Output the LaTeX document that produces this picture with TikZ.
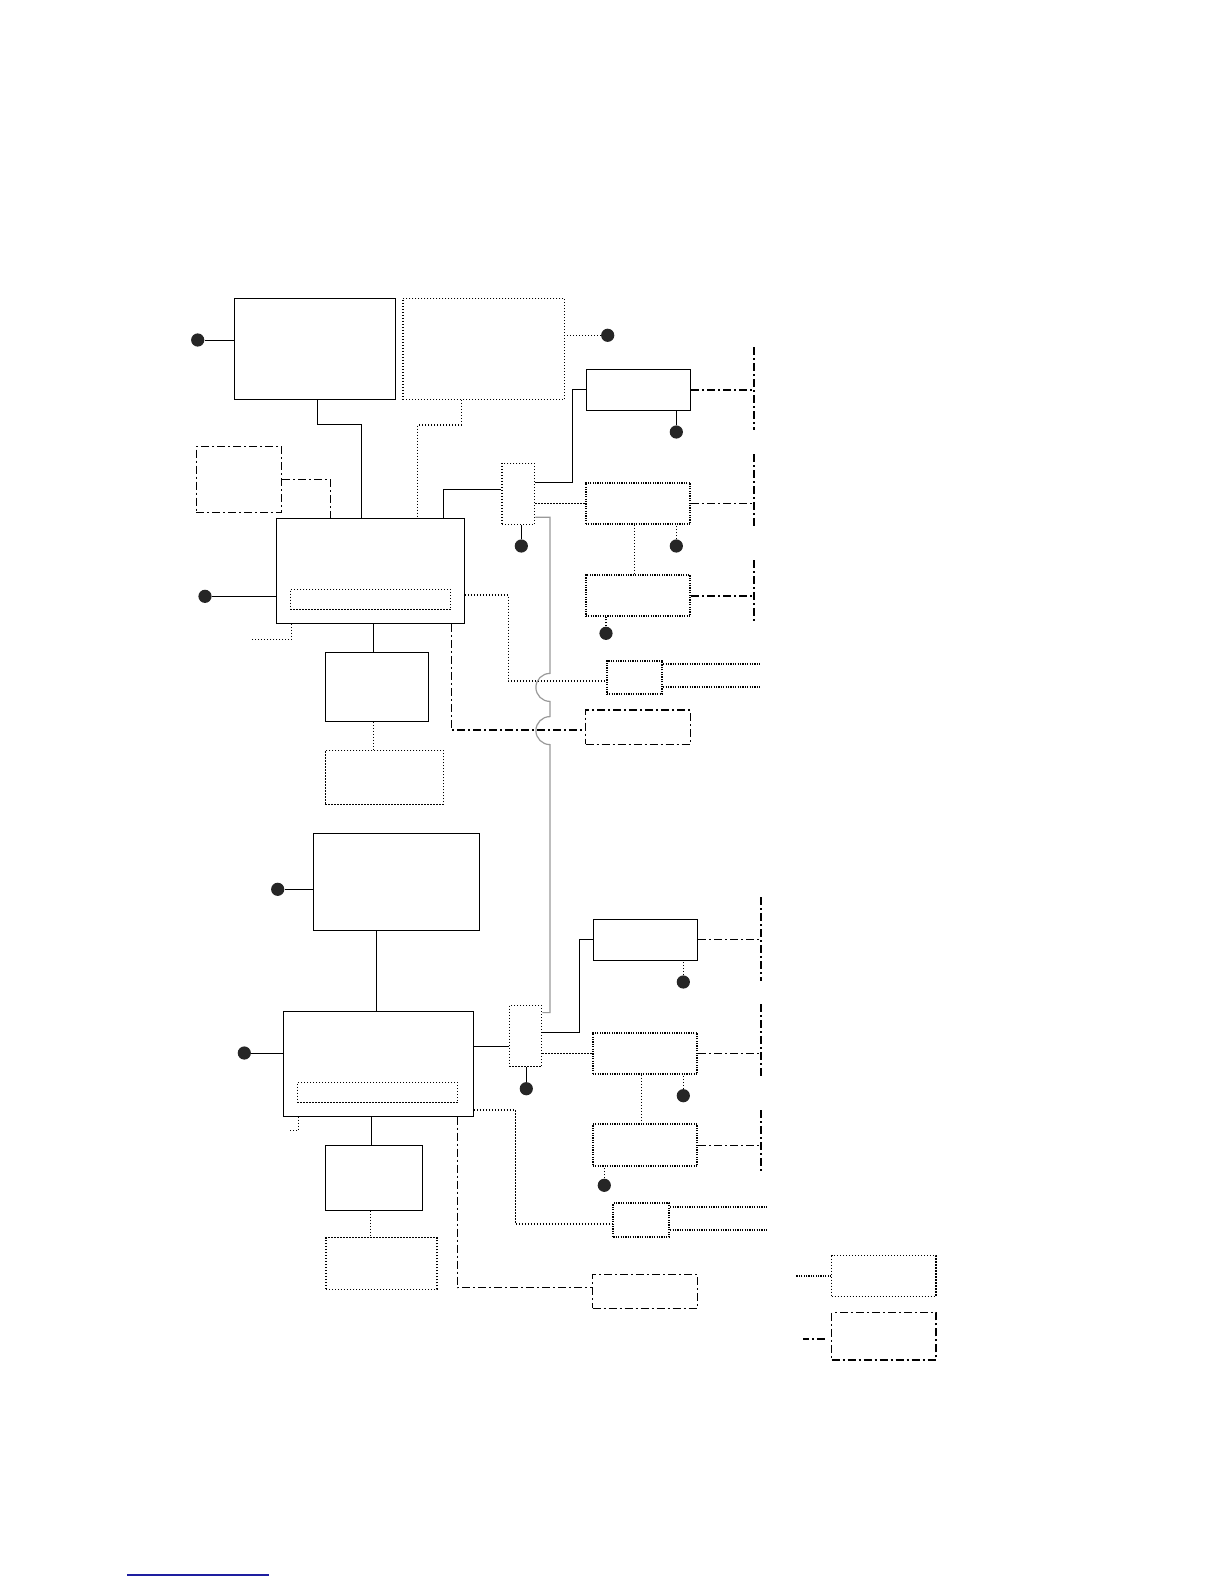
\documentclass[tikz,border=0pt]{standalone}
\usepackage{tikz}
\usetikzlibrary{fit}
\definecolor{lnk}{RGB}{30,30,160}

\begin{document}
\begin{tikzpicture}[x=0.5pt,y=-0.5pt,
  wire/.style={line width=0.5pt},
  dotw/.style={line width=0.6pt,dash pattern=on 0.6pt off 0.9pt},
  dotk/.style={line width=0.9pt,dash pattern=on 0.6pt off 0.6pt},
  dashdotw/.style={line width=0.6pt,dash pattern=on 4pt off 1.5pt on 1pt off 1.5pt},
  dashdotk/.style={line width=1pt,dash pattern=on 4pt off 1.5pt on 1pt off 1.5pt},
  busw/.style={line width=0.6pt,black!40},
  solidbox/.style={draw,wire,inner sep=0pt},
  dotbox/.style={draw,dotw,inner sep=0pt},
  heavybox/.style={draw,dotk,inner sep=0pt},
  ddbox/.style={draw,dashdotw,inner sep=0pt},
  jack/.style={circle,fill=black!85,minimum size=6.6pt,inner sep=0pt}]
  \useasboundingbox (0,0) rectangle (1224,1584);
  % upper unit
  \node[solidbox,fit={(234.3,298.3) (395.3,399.3)}] (panel) {};
  \node[dotbox,fit={(403,298.3) (564.7,399.3)}] (aux) {};
  \node[ddbox,fit={(196.3,446.3) (281.7,512.3)}] (opt) {};
  \node[solidbox,fit={(276.3,518.3) (464.3,623.3)}] (mcu) {};
  \node[dotbox,fit={(290.3,589.3) (450.7,609.3)}] (slot) {};
  \node[dotbox,fit={(502,463.3) (534.7,524.3)}] (hub) {};
  \node[solidbox,fit={(586.3,369.3) (690.7,410.3)}] (drvA) {};
  \node[heavybox,fit={(585.7,482.7) (690.3,524)}] (drvB) {};
  \node[heavybox,fit={(585.7,575.3) (690.3,616)}] (drvC) {};
  \node[heavybox,fit={(606.7,660.7) (662.3,694)}] (conn) {};
  \node[ddbox,fit={(585.7,710) (690.3,744.3)}] (ext) {};
  \node[solidbox,fit={(325.3,652.3) (428.3,721.3)}] (psu) {};
  \node[dotbox,fit={(325.3,750.3) (443.3,804.3)}] (bat) {};
  \node[jack] (jpanel) at (197.7,340) {};
  \node[jack] (jaux) at (607.7,335.3) {};
  \node[jack] (jmcu) at (205,596.3) {};
  \node[jack] (jhub) at (521.3,546) {};
  \node[jack] (jdrvA) at (676.3,432) {};
  \node[jack] (jdrvB) at (676.3,546) {};
  \node[jack] (jdrvC) at (606,633.3) {};
  \coordinate (railA) at (754,347.3);
  \coordinate (railB) at (754,454);
  \coordinate (railC) at (754,560);
  \draw[dashdotk] (railA) -- ++(0,82.7);
  \draw[dashdotk] (railB) -- ++(0,73.3);
  \draw[dashdotk] (railC) -- ++(0,63.3);
  \draw[wire] (jpanel) -- (jpanel -| panel.west);
  \draw[dotw] (jaux) -- (jaux -| aux.east);
  \draw[wire] (panel.south west) ++(84,0) |- ++(43.4,25) coordinate (k1) -- (k1 |- mcu.north);
  \draw[dotw] (aux.south west) ++(58.7,0) |- ++(-43.4,25) coordinate (k2) -- (k2 |- mcu.north);
  \draw[dashdotw] (opt.east) -- ++(48,0) coordinate (k3) -- (k3 |- mcu.north);
  \draw[wire] (mcu.north west) ++(168,0) |- ([yshift=2.2pt]hub.west);
  \draw[wire] ([yshift=5.9pt]hub.east) -- ++(37.6,0) |- (drvA.west);
  \draw[dotw] (hub.east |- drvB.west) -- (drvB.west);
  \draw[wire] (jhub) -- (jhub |- hub.south);
  \draw[wire] (jdrvA) -- (jdrvA |- drvA.south);
  \draw[dotw] (jdrvB) -- (jdrvB |- drvB.south);
  \draw[dotw] (jdrvC) -- (jdrvC |- drvC.south);
  \draw[dotw] ([xshift=-1.8pt]drvB.south) -- ([xshift=-1.8pt]drvC.north);
  \draw[dashdotk] (drvA.east) -- (drvA.east -| railA);
  \draw[dashdotw] (drvB.east) -- (drvB.east -| railB);
  \draw[dashdotk] (drvC.east) -- (drvC.east -| railC);
  \draw[wire] (jmcu) -- (jmcu -| mcu.west);
  \draw[dotw] (mcu.south west) ++(15.4,0) |- ++(-39,16);
  \draw[wire] ([xshift=1.5pt]mcu.south) coordinate (k4) -- (k4 |- psu.north);
  \draw[dotw] ([xshift=-1.75pt]psu.south) coordinate (k5) -- (k5 |- bat.north);
  \draw[dotw] ([yshift=-12.1pt]mcu.east) -- ++(43.4,0) |- ([yshift=-1.8pt]conn.west);
  \draw[dashdotw] (mcu.south east) ++(-13.3,0) |- ([yshift=-1.4pt]ext.west);
  \draw[dotk] ([yshift=6.5pt]conn.east) -- ++(97.7,0);
  \draw[dotk] ([yshift=-4.7pt]conn.east) -- ++(97.7,0);
  % lower unit
  \node[solidbox,fit={(313.3,833.3) (479.3,930.3)}] (panel2) {};
  \node[solidbox,fit={(283.3,1011.3) (473.3,1116)}] (mcu2) {};
  \node[dotbox,fit={(297.3,1082.3) (457.7,1102.3)}] (slot2) {};
  \node[dotbox,fit={(509.3,1005.3) (541.7,1066.3)}] (hub2) {};
  \node[solidbox,fit={(593.3,919.3) (697.7,960.3)}] (drvA2) {};
  \node[heavybox,fit={(592.7,1032.7) (697.3,1074)}] (drvB2) {};
  \node[heavybox,fit={(592.7,1124.3) (697.3,1166)}] (drvC2) {};
  \node[heavybox,fit={(613.3,1203.3) (669.3,1236.7)}] (conn2) {};
  \node[ddbox,fit={(592.7,1274.3) (697.3,1308.3)}] (ext2) {};
  \node[solidbox,fit={(325.3,1145.3) (422.3,1210.3)}] (psu2) {};
  \node[dotbox,fit={(326,1237.7) (437,1289.3)}] (bat2) {};
  \node[jack] (jpanel2) at (277.7,889.3) {};
  \node[jack] (jmcu2) at (244.3,1053) {};
  \node[jack] (jhub2) at (526.3,1088.7) {};
  \node[jack] (jdrvA2) at (683.3,982) {};
  \node[jack] (jdrvB2) at (683.3,1095.7) {};
  \node[jack] (jdrvC2) at (604.3,1185.3) {};
  \coordinate (railA2) at (761,897.3);
  \coordinate (railB2) at (761,1004);
  \coordinate (railC2) at (761,1110);
  \draw[dashdotk] (railA2) -- ++(0,83.4);
  \draw[dashdotk] (railB2) -- ++(0,72.7);
  \draw[dashdotk] (railC2) -- ++(0,64);
  \draw[wire] (jpanel2) -- (jpanel2 -| panel2.west);
  \draw[wire] ([xshift=-1pt]mcu2.north) coordinate (k6) -- (k6 |- panel2.south);
  \draw[wire] (jmcu2) -- (jmcu2 -| mcu2.west);
  \draw[wire] ([yshift=-5.2pt]hub2.west) coordinate (k7) -- (k7 -| mcu2.east);
  \draw[wire] (jhub2) -- (jhub2 |- hub2.south);
  \draw[wire] ([yshift=1.7pt]hub2.east) -- ++(37.6,0) |- (drvA2.west);
  \draw[dotw] (hub2.east |- drvB2.west) -- (drvB2.west);
  \draw[dotw] (jdrvA2) -- (jdrvA2 |- drvA2.south);
  \draw[dotw] (jdrvB2) -- (jdrvB2 |- drvB2.south);
  \draw[dotw] (jdrvC2) -- (jdrvC2 |- drvC2.south);
  \draw[dotw] ([xshift=-1.65pt]drvB2.south) -- ([xshift=-1.65pt]drvC2.north);
  \draw[dashdotw] (drvA2.east) -- (drvA2.east -| railA2);
  \draw[dashdotw] (drvB2.east) -- (drvB2.east -| railB2);
  \draw[dashdotw] (drvC2.east) -- (drvC2.east -| railC2);
  \draw[dotw] (mcu2.south west) ++(15.4,0) |- ++(-9.4,14);
  \draw[wire] ([xshift=-1.25pt]psu2.north) coordinate (k8) -- (k8 |- mcu2.south);
  \draw[dotw] ([xshift=-1.55pt]psu2.south) coordinate (k9) -- (k9 |- bat2.north);
  \draw[dashdotw] (mcu2.south east) ++(-16.6,0) |- ([yshift=1.8pt]ext2.west);
  \draw[dotw] ([yshift=-23.2pt]mcu2.east) -- ++(41.7,0) |- ([yshift=-2pt]conn2.west);
  \draw[dotk] ([yshift=6.35pt]conn2.east) -- ++(97.4,0);
  \draw[dotk] ([yshift=-5pt]conn2.east) -- ++(97.4,0);
  % shared bus with hop-overs
  \draw[busw] ([yshift=-11.7pt]hub.east) -- ++(14.6,0) -- ++(0,156.2)
    arc[start angle=90,end angle=270,radius=7pt] -- ++(0,15.2)
    arc[start angle=90,end angle=270,radius=7pt] |- ([yshift=11.6pt]hub2.east);
  % key
  \node[dotbox,fit={(831.7,1255.7) (936,1296.3)}] (key1) {};
  \node[ddbox,fit={(831.7,1312.7) (936,1360)}] (key2) {};
  \draw[dotk] (key1.west) -- ++(-35.7,0);
  \draw[dashdotk] ([shift={(-3.3pt,-1.5pt)}]key2.west) -- ++(-21.7,0);
  \draw[lnk,line width=0.6pt] (127.3,1575) -- (268.7,1575);
\end{tikzpicture}
\end{document}
